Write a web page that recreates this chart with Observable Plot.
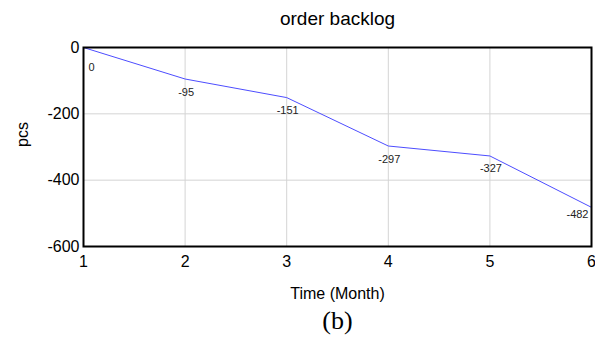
<!DOCTYPE html>
<html><head><meta charset="utf-8">
<script src="https://cdn.jsdelivr.net/npm/d3@7"></script>
<script src="https://cdn.jsdelivr.net/npm/@observablehq/plot@0.6"></script>
<style>
html,body{margin:0;padding:0;background:#fff;}
</style></head>
<body><div id="chart"></div>
<script>
const months = [1, 2, 3, 4, 5, 6];
const backlog = [0, -95, -151, -297, -327, -482];
const xTicks = [1, 2, 3, 4, 5, 6];
const yTicks = [0, -200, -400, -600];
const title = "order backlog";
const xLabel = "Time (Month)";
const yLabel = "pcs";
const caption = "(b)";

const data = months.map((m, i) => ({month: m, value: backlog[i]}));
const sans = "'Liberation Sans', Arial, sans-serif";

const chart = Plot.plot({
  width: 595,
  height: 337,
  marginTop: 47,
  marginBottom: 91,
  marginLeft: 83,
  marginRight: 4,
  style: {fontFamily: sans, fontSize: "16px", color: "#000", background: "#fff"},
  x: {domain: [1, 6], ticks: xTicks, tickSize: 0, tickPadding: 9, label: null, tickFormat: d => String(d)},
  y: {domain: [-600, 0], ticks: yTicks, tickSize: 0, tickPadding: 4, label: null, tickFormat: d => String(d)},
  marks: [
    Plot.gridX(xTicks.slice(1, -1), {stroke: "#d4d4d4", strokeOpacity: 1, strokeWidth: 1}),
    Plot.gridY(yTicks.slice(1, -1), {stroke: "#d4d4d4", strokeOpacity: 1, strokeWidth: 1}),
    Plot.line(data, {x: "month", y: "value", stroke: "#4d4dff", strokeWidth: 1}),
    Plot.text(data.filter((d, i) => i === 0), {x: "month", y: "value", text: d => String(d.value), textAnchor: "start", dx: 5, dy: 20, fontSize: 11, fill: "#222"}),
    Plot.text(data.filter((d, i) => i > 0 && i < data.length - 1), {x: "month", y: "value", text: d => String(d.value), textAnchor: "middle", dx: 1, dy: 13, fontSize: 11, fill: "#222"}),
    Plot.text(data.filter((d, i) => i === data.length - 1), {x: "month", y: "value", text: d => String(d.value), textAnchor: "end", dx: -3, dy: 7, fontSize: 11, fill: "#222"}),
    Plot.frame({stroke: "#000", strokeWidth: 2}),
    Plot.axisX({ticks: xTicks, tickSize: 0, tickPadding: 9, label: null, fontSize: 16, tickFormat: d => String(d)}),
    Plot.axisY({ticks: yTicks, tickSize: 0, tickPadding: 4, label: null, fontSize: 16, tickFormat: d => String(d)}),
    Plot.text([title], {frameAnchor: "top", dy: -36, text: d => d, fontSize: 19, fill: "#000"}),
    Plot.text([xLabel], {frameAnchor: "bottom", dy: 52, text: d => d, fontSize: 16, fill: "#000"}),
    Plot.text([caption], {frameAnchor: "bottom", dy: 82, text: d => d, fontSize: 26, fontFamily: "'Liberation Serif', 'Times New Roman', serif", fill: "#000"}),
    Plot.text([yLabel], {frameAnchor: "left", dx: -61, rotate: -90, text: d => d, fontSize: 16, fill: "#000"})
  ]
});
document.getElementById("chart").appendChild(chart);
</script>
</body></html>
